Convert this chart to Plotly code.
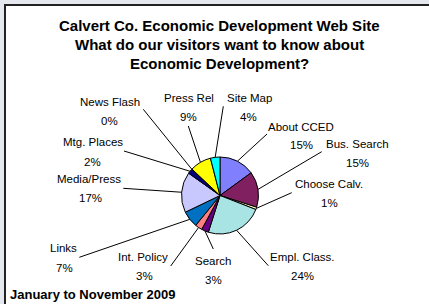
import math
import plotly.graph_objects as go

# ---- data ----
categories = ["About CCED", "Bus. Search", "Choose Calv.", "Empl. Class.", "Search",
              "Int. Policy", "Links", "Media/Press", "Mtg. Places", "News Flash",
              "Press Rel", "Site Map"]
values = [15, 15, 1, 24, 3, 3, 7, 17, 2, 0.2, 9, 4]
colors = ["#8080ff", "#802060", "#ffffc0", "#a8e4e4", "#660080", "#ff8080",
          "#0070c0", "#c8c8ff", "#000080", "#ff00ff", "#ffff00", "#00ffff"]
title_lines = ["Calvert Co. Economic Development Web Site",
               "What do our visitors want to know about",
               "Economic Development?"]
footnote = "January to November 2009"

# ---- layout (pixels) ----
W, H = 429, 304
CX, CY, R = 220, 195.5, 38.5
# label name position, percentage position, leader end point (pixels)
label_pos = {
    "About CCED":   ((300.5, 126.7), (301, 145.0), (267, 134)),
    "Bus. Search":  ((357.5, 144.0), (357.5, 163.3), (321.7, 151.7)),
    "Choose Calv.": ((329.0, 184.0), (329.5, 202.7), (291.7, 192.7)),
    "Empl. Class.": ((302.3, 257.3), (302.3, 275.7), (268.3, 265.7)),
    "Search":       ((213.0, 261.0), (213.0, 280.0), (213.3, 249.0)),
    "Int. Policy":  ((143.0, 256.7), (144.0, 275.7), (170.7, 266.0)),
    "Links":        ((63.7, 247.7), (64.7, 267.7), (79.3, 257.3)),
    "Media/Press":  ((89.0, 179.3), (90.0, 198.3), (123.3, 188.3)),
    "Mtg. Places":  ((92.5, 142.3), (92.5, 161.7), (124.0, 151.0)),
    "News Flash":   ((110.0, 101.7), (110.0, 120.7), (143.3, 109.3)),
    "Press Rel":    ((189.0, 98.0), (188.0, 116.5), (188.3, 126.0)),
    "Site Map":     ((249.0, 98.0), (248.5, 117.3), (223.3, 106.3)),
}

def px(x):
    return x / W

def py(y):
    return 1 - y / H

fig = go.Figure(go.Pie(
    labels=categories, values=values, sort=False, direction="clockwise",
    rotation=0, textinfo="none", hoverinfo="label+percent",
    marker=dict(colors=colors, line=dict(color="#000000", width=1)),
    domain=dict(x=[px(CX - R), px(CX + R)], y=[py(CY + R), py(CY - R)]),
    showlegend=False,
))

shapes = [dict(type="rect", xref="paper", yref="paper",
               x0=px(5), x1=px(W + 20), y0=py(H + 20), y1=py(5),
               fillcolor="#ffffff", line=dict(color="#222222", width=2), layer="below")]
annotations = []
total = sum(values)
cum = 0.0
lab_font = dict(family="Liberation Sans, Arial", size=11.5, color="#000000")
for cat, v in zip(categories, values):
    mid = (cum + v / 2) / total * 2 * math.pi
    cum += v
    sx = CX + R * math.sin(mid)
    sy = CY - R * math.cos(mid)
    (nx, ny), (qx, qy), (ex, ey) = label_pos[cat]
    shapes.append(dict(type="line", xref="paper", yref="paper",
                       x0=px(sx), y0=py(sy), x1=px(ex), y1=py(ey),
                       line=dict(color="#000000", width=1)))
    pct = f"{round(v / total * 100)}%"
    annotations.append(dict(text=cat, x=px(nx), y=py(ny), xref="paper", yref="paper",
                            showarrow=False, xanchor="center", yanchor="middle", font=lab_font))
    annotations.append(dict(text=pct, x=px(qx), y=py(qy), xref="paper", yref="paper",
                            showarrow=False, xanchor="center", yanchor="middle", font=lab_font))

title_font = dict(family="Liberation Sans, Arial", size=15, color="#000000")
for t, ty in zip(title_lines, [25, 44, 63]):
    annotations.append(dict(text=f"<b>{t}</b>", x=px(219), y=py(ty), xref="paper", yref="paper",
                            showarrow=False, xanchor="center", yanchor="middle", font=title_font))
annotations.append(dict(text=f"<b>{footnote}</b>", x=px(8), y=py(294), xref="paper", yref="paper",
                        showarrow=False, xanchor="left", yanchor="middle",
                        font=dict(family="Liberation Sans, Arial", size=13, color="#000000")))

fig.update_layout(
    width=W, height=H, autosize=False,
    margin=dict(l=0, r=0, t=0, b=0, pad=0),
    paper_bgcolor="#e6e8f0", plot_bgcolor="#ffffff",
    shapes=shapes, annotations=annotations,
)
fig.write_html("out.html", include_plotlyjs=True, config={"displayModeBar": False},
               post_script="document.body.style.margin='0';document.body.style.overflow='hidden';")
